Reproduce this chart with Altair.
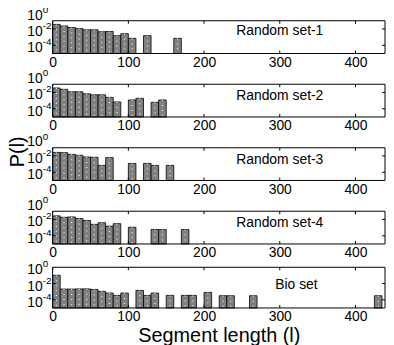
import altair as alt
import pandas as pd

FONT = "Liberation Sans"
GRAY = "#808080"
BIN = 10
X_MAX = 439
Y_MIN = 1e-5
W = 335
X_TICKS = [0, 100, 200, 300, 400]

# bin start (segment length) and probability P(l) for each panel
s1 = [0, 10, 20, 30, 40, 50, 60, 70, 80, 90, 100, 120, 160]
p1 = [3.6e-2, 2.3e-2, 1.5e-2, 1.1e-2, 7.8e-3, 7.8e-3, 4.5e-3, 4.9e-3, 1.5e-3, 2.6e-3, 7.1e-4, 1.5e-3, 7.1e-4]

s2 = [0, 10, 20, 30, 40, 50, 60, 70, 80, 100, 110, 130, 140]
p2 = [3.5e-2, 2.4e-2, 1.2e-2, 1.2e-2, 6.8e-3, 5.1e-3, 5.1e-3, 2.5e-3, 6.8e-4, 1.2e-3, 1.9e-3, 6.2e-4, 1.2e-3]

s3 = [0, 10, 20, 30, 40, 50, 60, 70, 100, 120, 130, 150]
p3 = [2.7e-2, 2.5e-2, 1.55e-2, 1.2e-2, 7.4e-3, 6.8e-3, 6.9e-4, 6.3e-3, 1.2e-3, 1.2e-3, 6.9e-4, 6.9e-4]

s4 = [0, 10, 20, 30, 40, 50, 60, 70, 80, 100, 130, 140, 170]
p4 = [2.7e-2, 1.8e-2, 2.0e-2, 1.3e-2, 7.4e-3, 2.5e-3, 3.9e-3, 1.5e-3, 3.0e-3, 1.1e-3, 5.8e-4, 5.8e-4, 5.8e-4]

s5 = [0, 10, 20, 30, 40, 50, 60, 70, 80, 90, 110, 120, 130, 150, 170, 180, 200, 220, 230, 260, 425]
p5 = [0.105, 2.1e-3, 2.1e-3, 2.2e-3, 2.2e-3, 1.9e-3, 1.1e-3, 6.8e-4, 3.5e-4, 6.8e-4, 1.45e-3, 3.5e-4,
      6.8e-4, 3.5e-4, 3.5e-4, 3.5e-4, 8.1e-4, 3.2e-4, 3.2e-4, 3.2e-4, 3.2e-4]

labels = ["Random set-1", "Random set-2", "Random set-3", "Random set-4", "Bio set"]
label_x = [300, 300, 300, 300, 322]
label_y = [5.5e-3, 3.5e-3, 3.2e-3, 3.2e-3, 7.4e-3]

y_label_vals = [1, 1e-2, 1e-4]
y_label_exp = ["0", "-2", "-4"]


def make_panel(starts, probs, i, ymax, h, box_top, xtitle=None, ytitle=False):
    bars = pd.DataFrame({"start": starts, "p": probs})
    bars["end"] = bars["start"] + BIN
    bars["mid"] = bars["start"] + BIN / 2
    bars["base"] = Y_MIN
    xs = alt.Scale(domain=[0, X_MAX], nice=False, zero=False)
    ys = alt.Scale(type="log", domain=[Y_MIN, ymax], nice=False, range=[h, box_top])
    axis_kw = dict(values=X_TICKS, ticks=False, domain=False, grid=False,
                   labelFontSize=14, labelFont=FONT, labelColor="black",
                   labelPadding=2, labelFlush=False)
    if xtitle:
        axis_kw.update(title=xtitle, titleFontSize=20, titleFont=FONT,
                       titleFontWeight="normal", titleColor="black", titlePadding=2)
        xenc = alt.X("start:Q", scale=xs, axis=alt.Axis(**axis_kw))
    else:
        xenc = alt.X("start:Q", scale=xs, axis=alt.Axis(**axis_kw), title=None)

    rect = alt.Chart(bars).mark_rect(fill=GRAY, stroke="black", strokeWidth=0.8).encode(
        x=xenc, x2="end:Q",
        y=alt.Y("p:Q", scale=ys, axis=None), y2="base:Q")
    dots = alt.Chart(bars).mark_rule(color="white", strokeDash=[1, 4], strokeWidth=1.2,
                                     opacity=0.85).encode(x="mid:Q", y="p:Q", y2="base:Q")

    box = alt.Chart(pd.DataFrame({"k": [0]})).mark_rect(
        fillOpacity=0, stroke="black", strokeWidth=1).encode(
        x=alt.value(0), x2=alt.value(W), y=alt.value(box_top), y2=alt.value(h))

    xt = pd.DataFrame({"v": X_TICKS})
    xt_bot = alt.Chart(xt).mark_rule(color="black").encode(x="v:Q", y=alt.value(h), y2=alt.value(h - 3))
    xt_top = alt.Chart(xt).mark_rule(color="black").encode(
        x="v:Q", y=alt.value(box_top), y2=alt.value(box_top + 3))

    yv = [v for v in y_label_vals if v < ymax]
    yt = pd.DataFrame({"v": yv})
    yt_l = alt.Chart(yt).mark_rule(color="black").encode(y="v:Q", x=alt.value(0), x2=alt.value(3))
    yt_r = alt.Chart(yt).mark_rule(color="black").encode(y="v:Q", x=alt.value(W - 3), x2=alt.value(W))

    yl = pd.DataFrame({"v": y_label_vals, "b": ["10"] * 3, "e": y_label_exp})
    yl_base = alt.Chart(yl).mark_text(align="right", baseline="middle", fontSize=14, font=FONT,
                                      color="black", dx=-10, dy=3).encode(
        x=alt.value(0), y="v:Q", text="b:N")
    yl_exp = alt.Chart(yl).mark_text(align="left", baseline="middle", fontSize=10, font=FONT,
                                     color="black", dx=-10, dy=-3).encode(
        x=alt.value(0), y="v:Q", text="e:N")

    lab = pd.DataFrame({"x": [label_x[i]], "y": [label_y[i]], "t": [labels[i]]})
    lab_m = alt.Chart(lab).mark_text(fontSize=14, font=FONT, color="black").encode(
        x="x:Q", y="y:Q", text="t:N")

    layers = [rect, dots, box, xt_bot, xt_top, yt_l, yt_r, yl_base, yl_exp, lab_m]
    if ytitle:
        tdf = pd.DataFrame({"t": ["P(l)"]})
        layers.append(alt.Chart(tdf).mark_text(angle=270, fontSize=20, font=FONT, color="black",
                                               baseline="middle", align="center").encode(
            x=alt.value(-35), y=alt.value(box_top + 4), text="t:N"))
    return alt.layer(*layers).properties(width=W, height=h)


CELL = 40.5
TOP = 7.5
P1 = make_panel(s1, p1, 0, 1e-1, CELL, TOP)
P2 = make_panel(s2, p2, 1, 1e-1, CELL, TOP)
P3 = make_panel(s3, p3, 2, 1e-1, CELL, TOP, ytitle=True)
P4 = make_panel(s4, p4, 3, 1e-1, CELL, TOP)
P5 = make_panel(s5, p5, 4, 1, 41, 0, xtitle="Segment length (l)")

chart = alt.vconcat(P1, P2, P3, P4, P5, spacing=23, bounds="flush").configure_view(
    stroke=None
).properties(padding={"left": 0, "top": -5, "right": 0, "bottom": 0})

chart.save("out.html", embed_options={"renderer": "svg", "actions": False})
